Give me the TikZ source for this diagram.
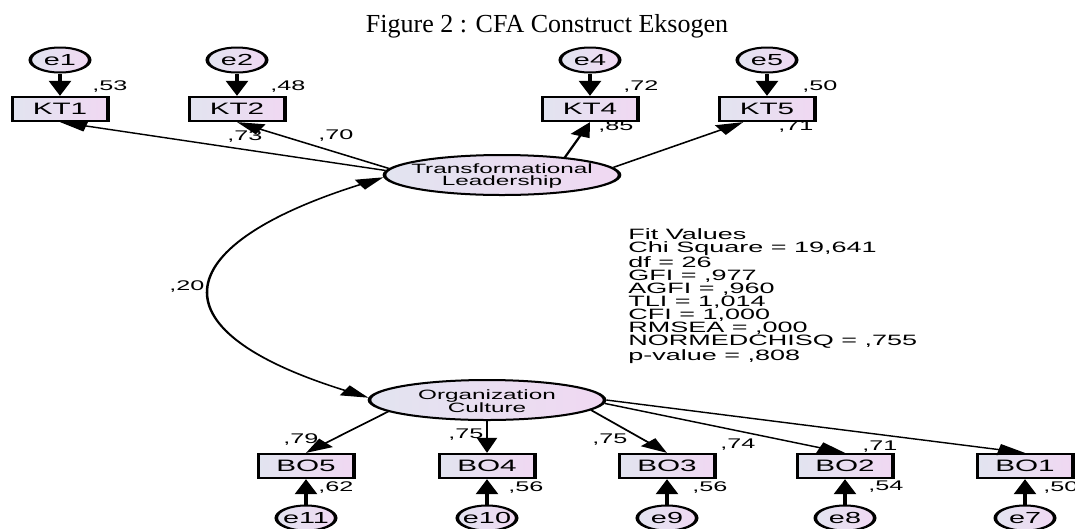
\documentclass[tikz,border=0pt]{standalone}
\usepackage{fontspec}
\newfontfamily\amos{Liberation Sans}
\newfontfamily\tnr{Liberation Serif}
\usetikzlibrary{arrows.meta,shapes.geometric,calc}
\definecolor{shL}{RGB}{226,228,240}
\definecolor{shR}{RGB}{240,216,242}
\tikzset{
 mbox/.style={draw=black, line width=2.2pt, minimum width=52.8pt, minimum height=24pt, inner sep=0pt, left color=shL, right color=shR, font=\amos\fontsize{16.5}{16.5}\selectfont},
 err/.style={ellipse, draw=black, line width=2pt, minimum width=33pt, minimum height=25pt, inner sep=0pt, left color=shL, right color=shR},
 etxt/.style={font=\amos\fontsize{16}{16}\selectfont, inner sep=0pt},
 lat/.style={ellipse, draw=black, line width=2pt, minimum width=130.6pt, minimum height=40pt, inner sep=0pt, left color=shL, right color=shR},
 lattxt/.style={font=\amos\fontsize{13.5}{12}\selectfont, align=center, inner sep=0pt},
 val/.style={font=\amos\fontsize{14}{14}\selectfont, inner sep=0pt, anchor=west},
 arr/.style={-{Triangle[length=15pt,width=11pt]}, line width=1.4pt},
 earr/.style={-{Triangle[length=15pt,width=12pt]}, line width=2pt},
 darr/.style={{Triangle[length=15pt,width=11pt]}-{Triangle[length=15pt,width=11pt]}, line width=1.4pt},
}
\begin{document}
\begin{tikzpicture}[x=1pt,y=-1pt]
\useasboundingbox[fill=white] (0,0) rectangle (1075,528);
\node[font=\tnr\fontsize{26}{26}\selectfont, anchor=base, inner sep=0pt] (title) at (547,32) {Figure 2 : CFA Construct Eksogen};
\begin{scope}[x=0.5555556pt, y=-1pt, transform canvas={xscale=1.8}]
% error terms top
\node[err] (e1) at (60,60) {}; \node[etxt] (e1t) at (e1) {e1};
\node[err] (e2) at (237,60) {}; \node[etxt] (e2t) at (e2) {e2};
\node[err] (e4) at (590,60) {}; \node[etxt] (e4t) at (e4) {e4};
\node[err] (e5) at (767,60) {}; \node[etxt] (e5t) at (e5) {e5};
% indicators top
\node[mbox] (KT1) at (60,109) {KT1};
\node[mbox] (KT2) at (237,109) {KT2};
\node[mbox] (KT4) at (590,109) {KT4};
\node[mbox] (KT5) at (767,109) {KT5};
% latents
\node[lat] (TL) at (502,175) {};
\node[lattxt] (TLt) at (502,176.5) {Transformational\\Leadership};
\node[lat] (OC) at (487,400) {};
\node[lattxt] (OCt) at (487,401) {Organization\\Culture};
% indicators bottom
\node[mbox] (BO5) at (306,466) {BO5};
\node[mbox] (BO4) at (487,466) {BO4};
\node[mbox] (BO3) at (667,466) {BO3};
\node[mbox] (BO2) at (845,466) {BO2};
\node[mbox] (BO1) at (1025,466) {BO1};
% error terms bottom
\node[err] (e11) at (306,518) {}; \node[etxt] (e11t) at (e11) {e11};
\node[err] (e10) at (487,518) {}; \node[etxt] (e10t) at (e10) {e10};
\node[err] (e9) at (667,518) {}; \node[etxt] (e9t) at (e9) {e9};
\node[err] (e8) at (845,518) {}; \node[etxt] (e8t) at (e8) {e8};
\node[err] (e7) at (1025,518) {}; \node[etxt] (e7t) at (e7) {e7};
% fit values
\node[font=\amos\fontsize{15}{13.1}\selectfont, align=left, anchor=north west, inner sep=0pt] (fit) at (628,228)
 {Fit Values\\Chi Square = 19,641\\df = 26\\GFI = ,977\\AGFI = ,960\\TLI = 1,014\\CFI = 1,000\\RMSEA = ,000\\NORMEDCHISQ = ,755\\p-value = ,808};
% connectors
\draw[earr] (e1) -- (KT1);
\draw[earr] (e2) -- (KT2);
\draw[earr] (e4) -- (KT4);
\draw[earr] (e5) -- (KT5);
\draw[earr] (e11) -- (BO5);
\draw[earr] (e10) -- (BO4);
\draw[earr] (e9) -- (BO3);
\draw[earr] (e8) -- (BO2);
\draw[earr] (e7) -- (BO1);
\draw[arr] (TL.176) -- (KT1.south);
\draw[arr] (TL.174) -- (KT2.south);
\draw[arr] (TL.27) -- (KT4.south);
\draw[arr] (TL.7) -- ($(KT5.south west)!0.26!(KT5.south east)$);
\draw[arr] (OC.192) -- (BO5.north);
\draw[arr] (OC.south) -- (BO4.north);
\draw[arr] (OC.350) -- (BO3.north);
\draw[arr] (OC.357) -- (BO2.north);
\draw[arr] (OC.east) -- (BO1.north);
\draw[darr] (OC.178) .. controls (144,328) and (174,243) .. (TL.182);
% values
\node[val] (v53) at (92,87) {,53};
\node[val] (v48) at (270,87) {,48};
\node[val] (v72) at (623,87) {,72};
\node[val] (v50a) at (802,87) {,50};
\node[val] (v73) at (227,137) {,73};
\node[val] (v70) at (318,136) {,70};
\node[val] (v85) at (598,127) {,85};
\node[val] (v71a) at (778,127) {,71};
\node[val] (v20) at (169,286) {,20};
\node[val] (v79) at (283,439) {,79};
\node[val] (v75a) at (448,435) {,75};
\node[val] (v75b) at (592,440) {,75};
\node[val] (v74) at (720,445) {,74};
\node[val] (v71b) at (862,447) {,71};
\node[val] (v62) at (318,487) {,62};
\node[val] (v56a) at (508,487) {,56};
\node[val] (v56b) at (692,487) {,56};
\node[val] (v54) at (868,487) {,54};
\node[val] (v50b) at (1043,487) {,50};
\end{scope}
\end{tikzpicture}
\end{document}
